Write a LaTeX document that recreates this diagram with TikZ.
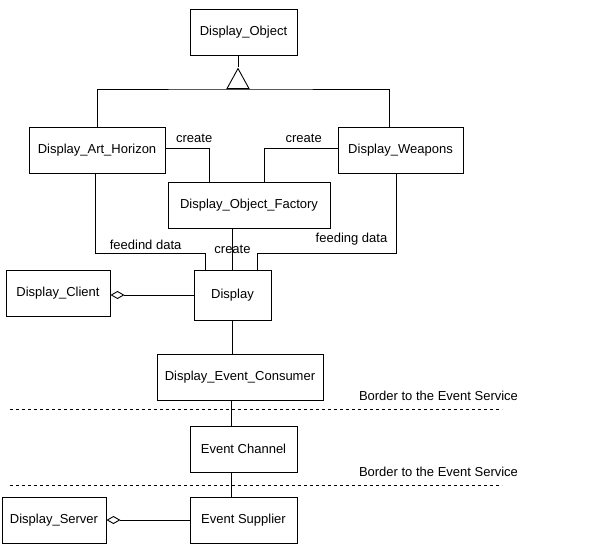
\documentclass[tikz,border=0pt]{standalone}
\usepackage{fontspec}
\setmainfont{Liberation Sans}
\usetikzlibrary{arrows.meta,shapes.geometric,positioning}

\begin{document}
\begin{tikzpicture}
    [x=1pt, y=-1pt,
    line width=0.9pt,
    font=\fontsize{13}{15}\selectfont,
    cls/.style={draw, rectangle, minimum height=46pt, inner sep=0pt},
    gen/.style={draw, isosceles triangle, shape border rotate=90, isosceles triangle stretches,
        minimum width=22pt, minimum height=20pt, inner sep=0pt},
    agg/.style={{Diamond[open, length=14pt, width=8pt]}-},
    border/.style={dash pattern=on 3pt off 3pt}]
    \useasboundingbox (0,0) rectangle (597,544);
        %% Display side
    \node[cls, minimum width=107pt] (Obj) at (243.5,32) {Display\_Object};
        \node[gen, anchor=lower side] (G) at (238,89) {};
        \node[cls, minimum width=136pt] (Hor) at (97,150) {Display\_Art\_Horizon};
        \node[cls, minimum width=125pt] (Weap) at (400.5,150) {Display\_Weapons};
        \node[cls, minimum width=162pt] (Fac) at (249,205) {Display\_Object\_Factory};
        \node[cls, minimum width=77pt, minimum height=50pt] (Disp) at (232.5,295) {Display};
        \node[cls, minimum width=104pt] (Cli) at (58,293) {Display\_Client};
        \node[cls, minimum width=166pt] (Con) at (240,377) {Display\_Event\_Consumer};

        \draw (Obj.south -| G.apex) to (G.apex);
        \draw (Hor.north) |- (G.lower side) -| ([xshift=-11.5pt]Weap.north);
        \draw ([yshift=2pt]Hor.east) -| node[pos=.33, above, yshift=2pt] {create} ([xshift=-40pt]Fac.north);
        \draw ([yshift=2pt]Weap.west) -| node[pos=.23, above, yshift=2pt] {create} ([xshift=15pt]Fac.north);
        \draw (Disp.north |- Fac.south) to node {create} (Disp.north);
        \draw ([xshift=-2pt]Hor.south) -- ++(0,80) -| node[pos=.23, above] {feedind data} ([xshift=-27.5pt]Disp.north);
        \draw ([xshift=-4.5pt]Weap.south) -- ++(0,80) -| node[pos=.16, above, yshift=4pt] {feeding data} ([xshift=24.5pt]Disp.north);
        \draw[agg] (Cli.east |- Disp.west) to (Disp.west);
        \draw (Disp.south) to (Disp.south |- Con.north);

        %% Event Service side
    \node[cls, minimum width=107pt] (Chan) at (243.5,449) {Event Channel};
        \node[cls, minimum width=107pt, below of=Chan, node distance=71.5pt] (Sup) {Event Supplier};
        \node[cls, minimum width=104pt] (Srv) at (54,520) {Display\_Server};
        \node (Bord1) at (438.5,396) {Border to the Event Service};
        \node (Bord2) at (438.5,472) {Border to the Event Service};
        \coordinate (B1l) at (10,409);
        \coordinate (B1r) at (502,409);
        \coordinate (B2l) at (10,485);
        \coordinate (B2r) at (502,485);

        \draw[border] (B1l) -- (B1r);
        \draw[border] (B2l) -- (B2r);
        \draw ([xshift=-9pt]Con.south) to ([xshift=-9pt]Con.south |- Chan.north);
        \draw ([xshift=-12pt]Chan.south) to ([xshift=-12pt]Sup.north);
        \draw[agg] (Srv.east) to (Srv.east -| Sup.west);
\end{tikzpicture}
\end{document}
